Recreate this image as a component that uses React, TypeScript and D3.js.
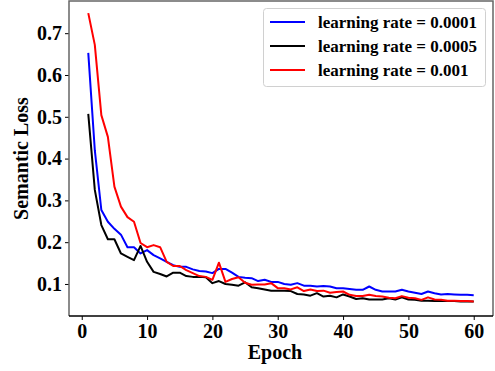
import React, { useEffect, useRef } from 'react';
import * as d3 from 'd3';

// epochs 1..60
const epochs = d3.range(1, 61);

const lr0001 = [
  0.653, 0.420, 0.277, 0.249, 0.232, 0.218, 0.188, 0.188, 0.173, 0.181,
  0.169, 0.161, 0.153, 0.145, 0.141, 0.141, 0.135, 0.131, 0.130, 0.126,
  0.136, 0.136, 0.127, 0.117, 0.115, 0.114, 0.107, 0.110, 0.105, 0.105,
  0.100, 0.098, 0.102, 0.096, 0.096, 0.094, 0.095, 0.094, 0.090, 0.090,
  0.088, 0.086, 0.086, 0.094, 0.086, 0.082, 0.082, 0.082, 0.086, 0.082,
  0.079, 0.076, 0.082, 0.078, 0.075, 0.076, 0.075, 0.074, 0.074, 0.073,
];

const lr0005 = [
  0.507, 0.325, 0.241, 0.207, 0.207, 0.173, 0.165, 0.157, 0.191, 0.153,
  0.129, 0.124, 0.118, 0.127, 0.127, 0.119, 0.117, 0.117, 0.116, 0.102,
  0.107, 0.100, 0.098, 0.096, 0.104, 0.092, 0.090, 0.087, 0.084, 0.084,
  0.084, 0.083, 0.076, 0.075, 0.072, 0.078, 0.070, 0.072, 0.068, 0.075,
  0.070, 0.064, 0.066, 0.063, 0.063, 0.063, 0.066, 0.063, 0.068, 0.063,
  0.062, 0.060, 0.060, 0.059, 0.059, 0.059, 0.059, 0.058, 0.058, 0.058,
];

const lr001 = [
  0.748, 0.672, 0.504, 0.452, 0.333, 0.285, 0.260, 0.249, 0.198, 0.188,
  0.193, 0.188, 0.153, 0.143, 0.143, 0.133, 0.126, 0.119, 0.117, 0.110,
  0.151, 0.105, 0.112, 0.116, 0.103, 0.098, 0.099, 0.099, 0.102, 0.090,
  0.090, 0.087, 0.092, 0.083, 0.087, 0.083, 0.084, 0.079, 0.081, 0.082,
  0.074, 0.071, 0.071, 0.074, 0.071, 0.070, 0.067, 0.066, 0.071, 0.067,
  0.066, 0.062, 0.068, 0.063, 0.062, 0.060, 0.060, 0.059, 0.059, 0.058,
];

const seriesNames = ['learning rate = 0.0001', 'learning rate = 0.0005', 'learning rate = 0.001'];
const seriesColors = ['#0000ff', '#000000', '#ff0000'];
const xTicks = [0, 10, 20, 30, 40, 50, 60];
const yTicks = [0.1, 0.2, 0.3, 0.4, 0.5, 0.6, 0.7];

const App = () => {
  const ref = useRef<SVGSVGElement>(null);

  useEffect(() => {
    const width = 495;
    const height = 371;
    const margin = { top: 1, right: 2, bottom: 55, left: 69 };
    const font = '"Liberation Serif", "Times New Roman", serif';

    const svg = d3.select(ref.current);
    svg.selectAll('*').remove();

    const x = d3.scaleLinear().domain([-1.95, 62.95]).range([margin.left, width - margin.right]);
    const y = d3.scaleLinear().domain([0.0234, 0.777]).range([height - margin.bottom, margin.top]);

    const allSeries = [lr0001, lr0005, lr001];

    // lines
    const line = d3.line<number>()
      .x((_, i) => x(epochs[i]))
      .y(d => y(d));

    allSeries.forEach((s, i) => {
      svg.append('path')
        .datum(s)
        .attr('fill', 'none')
        .attr('stroke', seriesColors[i])
        .attr('stroke-width', 2)
        .attr('stroke-linejoin', 'round')
        .attr('d', line);
    });

    // x axis
    const xAxis = svg.append('g')
      .attr('transform', `translate(0,${height - margin.bottom})`)
      .call(d3.axisBottom(x).tickValues(xTicks).tickSize(4).tickPadding(4).tickFormat(d3.format('d')));
    xAxis.select('.domain').remove();

    // y axis
    const yAxis = svg.append('g')
      .attr('transform', `translate(${margin.left},0)`)
      .call(d3.axisLeft(y).tickValues(yTicks).tickSize(4).tickPadding(3).tickFormat(d3.format('.1f')));
    yAxis.select('.domain').remove();

    svg.selectAll('.tick text')
      .attr('font-family', font)
      .attr('font-weight', 'bold')
      .attr('font-size', 20)
      .attr('fill', '#000');
    svg.selectAll('.tick line').attr('stroke', '#000');

    // frame
    const L = margin.left, R = width - margin.right, T = margin.top, B = height - margin.bottom;
    svg.append('path')
      .attr('d', `M${L},${B}V${T}H${R}V${B}`)
      .attr('fill', 'none')
      .attr('stroke', '#666')
      .attr('stroke-width', 1.5);
    svg.append('line')
      .attr('x1', L).attr('x2', R).attr('y1', B).attr('y2', B)
      .attr('stroke', '#000')
      .attr('stroke-width', 1.5);

    // axis labels
    svg.append('text')
      .attr('x', (L + R) / 2 - 6)
      .attr('y', 359)
      .attr('text-anchor', 'middle')
      .attr('font-family', font)
      .attr('font-weight', 'bold')
      .attr('font-size', 20)
      .text('Epoch');

    svg.append('text')
      .attr('transform', `translate(28,${(T + B) / 2}) rotate(-90)`)
      .attr('text-anchor', 'middle')
      .attr('font-family', font)
      .attr('font-weight', 'bold')
      .attr('font-size', 20)
      .text('Semantic Loss');

    // legend
    const legend = svg.append('g');
    legend.append('rect')
      .attr('x', 263.5).attr('y', 8.5)
      .attr('width', 222).attr('height', 78)
      .attr('rx', 3)
      .attr('fill', 'rgba(255,255,255,0.8)')
      .attr('stroke', '#d0d0d0');
    seriesNames.forEach((name, i) => {
      const ly = 22 + i * 24;
      legend.append('line')
        .attr('x1', 270).attr('x2', 305)
        .attr('y1', ly).attr('y2', ly)
        .attr('stroke', seriesColors[i])
        .attr('stroke-width', 2);
      legend.append('text')
        .attr('x', 318).attr('y', ly + 6)
        .attr('font-family', font)
        .attr('font-weight', 'bold')
        .attr('font-size', 17)
        .text(name);
    });
  }, []);

  return (
    <svg
      ref={ref}
      width={495}
      height={371}
      style={{ position: 'absolute', left: 0, top: 0, background: '#fff' }}
    />
  );
};

export default App;
